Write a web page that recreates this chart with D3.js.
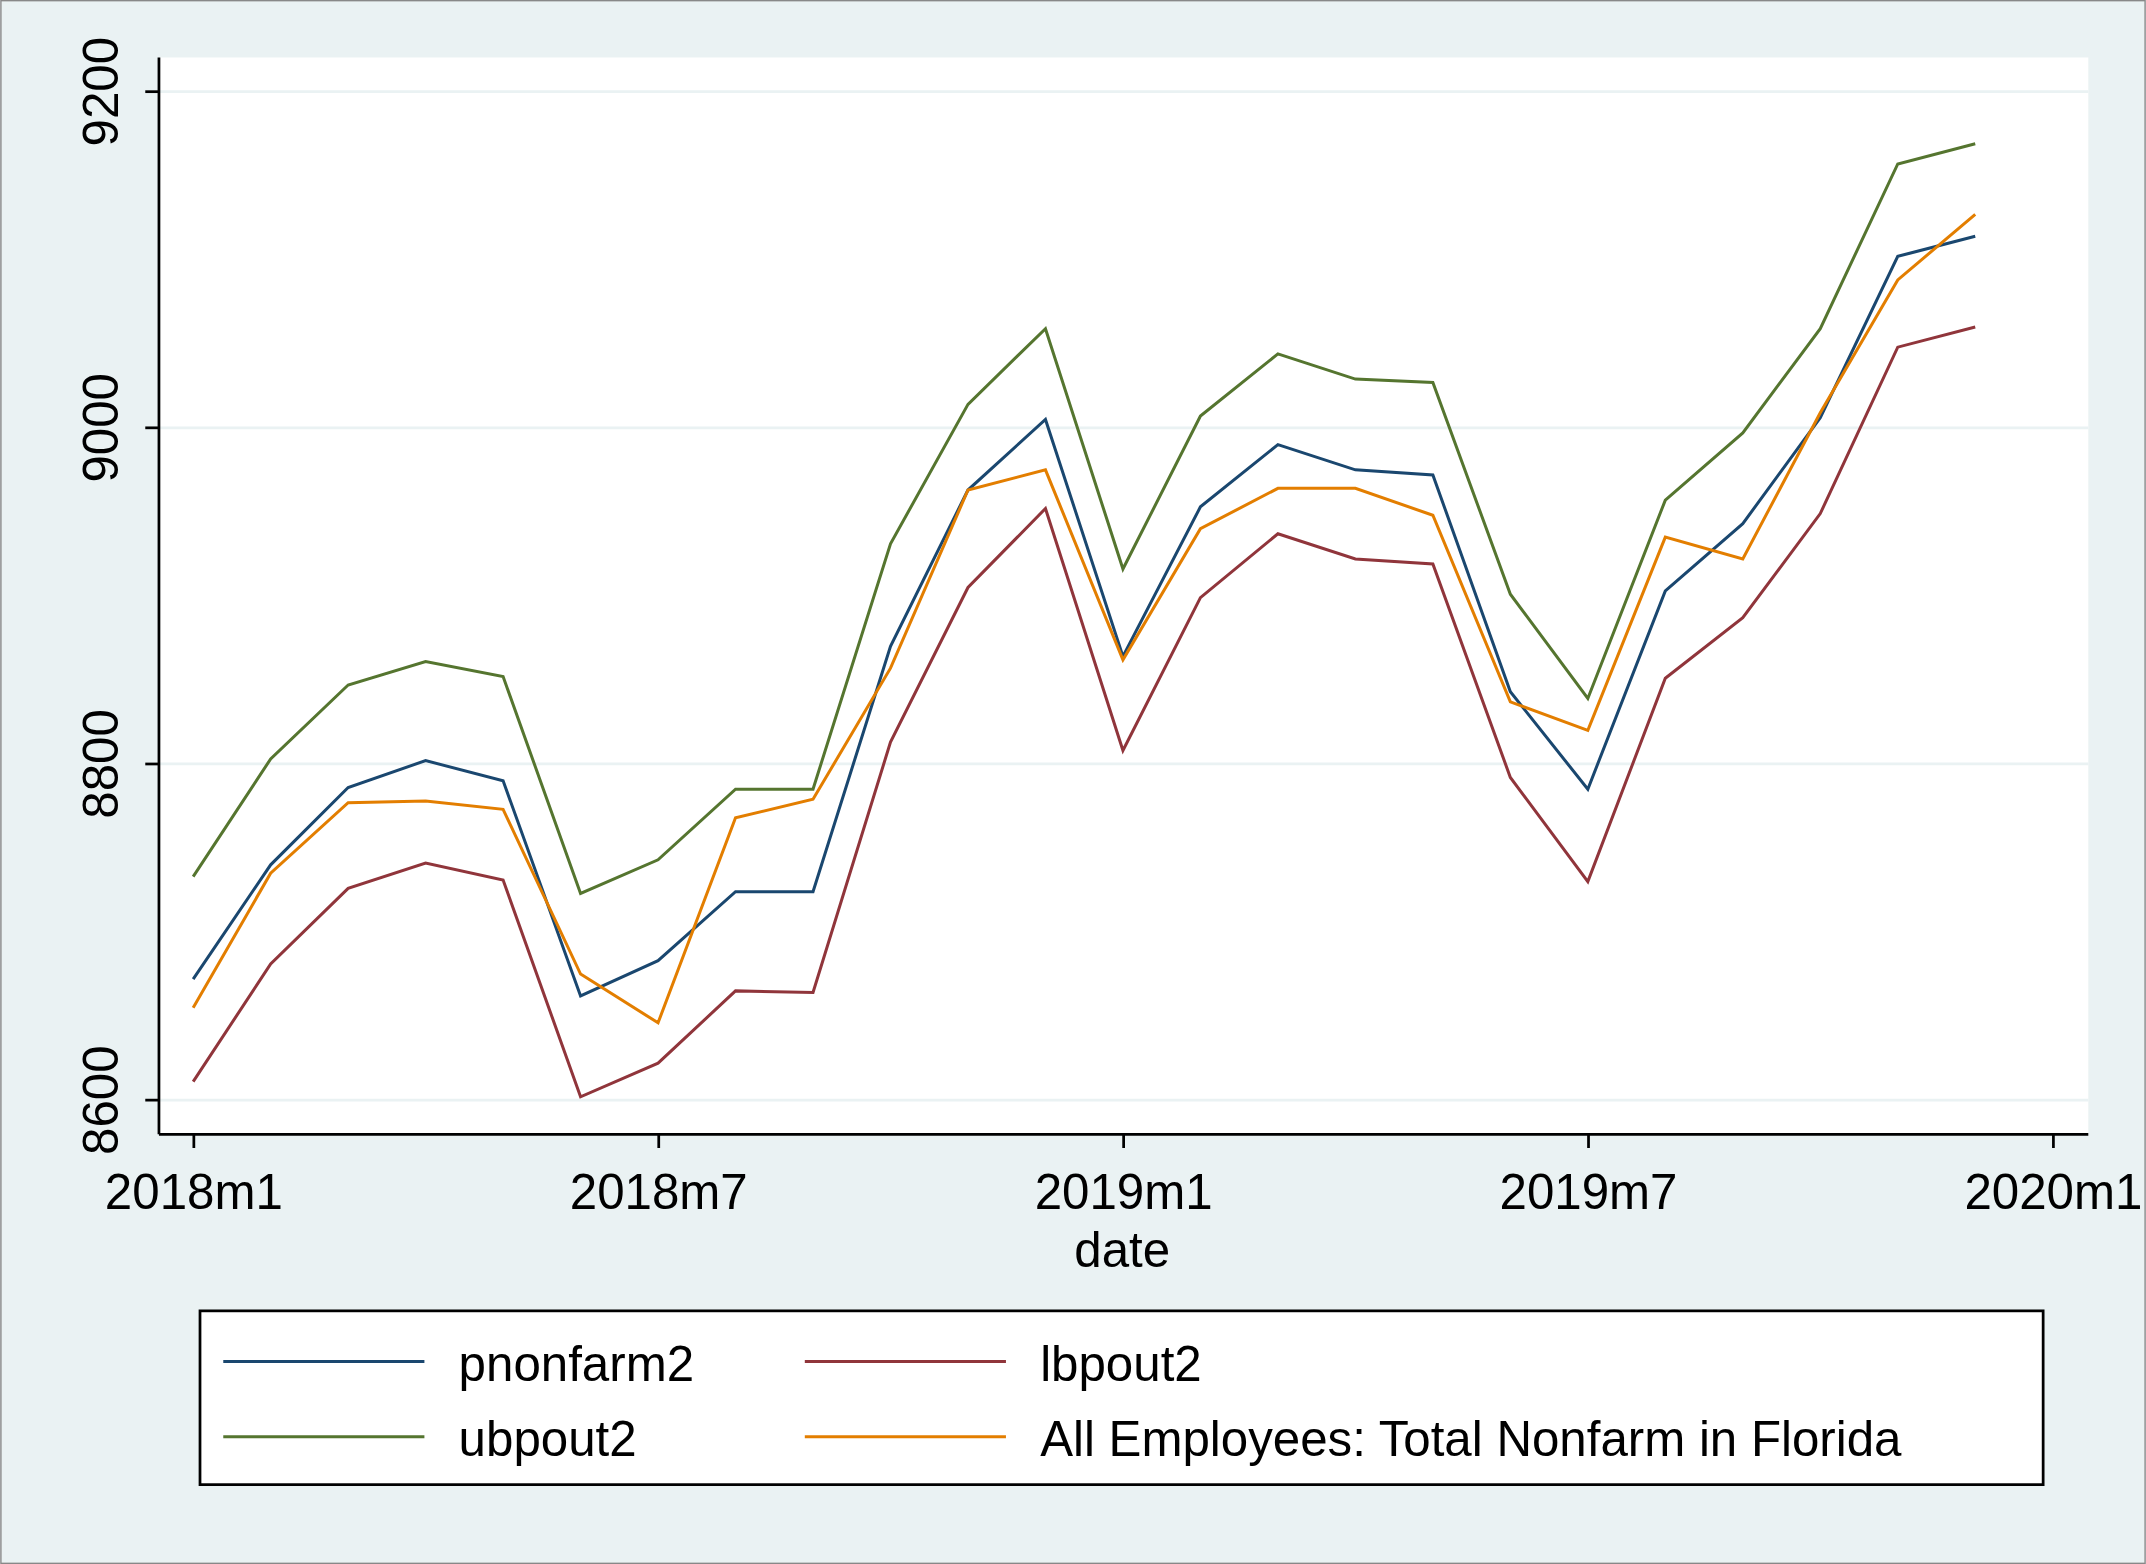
<!DOCTYPE html><html><head><meta charset="utf-8">
<script src="https://cdn.jsdelivr.net/npm/d3@7"></script>
<style>body{margin:0;background:#eaf2f3}svg{display:block}</style></head><body>
<svg id="c" width="2146" height="1564" viewBox="0 0 1568 1143"></svg>
<script>
const months = d3.range(24); // 0 = 2018m1
const pnonfarm2 = [8672,8740,8786,8802,8790,8662,8683,8724,8724,8870,8963,9005,8864,8953,8990,8975,8972,8843,8785,8903,8943,9006,9102,9114];
const ubpout2 = [8733,8803,8847,8861,8852,8723,8743,8785,8785,8931,9014,9059,8916,9007,9044,9029,9027,8901,8839,8957,8997,9059,9157,9169];
const lbpout2 = [8611,8681,8726,8741,8731,8602,8622,8665,8664,8813,8905,8952,8808,8899,8937,8922,8919,8792,8730,8851,8887,8949,9048,9060];
const florida = [8655,8735,8777,8778,8773,8675,8646,8768,8779,8857,8963,8975,8862,8940,8964,8964,8948,8837,8820,8935,8922,9009,9088,9127];
const yTicks = [8600,8800,9000,9200];
const xTicks = [0,6,12,18,24];
const xTickLabels = ["2018m1","2018m7","2019m1","2019m7","2020m1"];
const series = [
 {name:"pnonfarm2",data:pnonfarm2,color:"#1a476f"},
 {name:"lbpout2",data:lbpout2,color:"#90353b"},
 {name:"ubpout2",data:ubpout2,color:"#55752f"},
 {name:"All Employees: Total Nonfarm in Florida",data:florida,color:"#e37e00"}];
const svg=d3.select("#c");
const F="Liberation Sans, Arial, sans-serif";
svg.append("rect").attr("x",0.5).attr("y",0.5).attr("width",1567).attr("height",1142).attr("fill","#eaf2f3").attr("stroke","#888");
const L=116,R=1526,T=42,B=829;
svg.append("rect").attr("x",L).attr("y",T).attr("width",R-L).attr("height",B-T).attr("fill","#fff");
const x=d3.scaleLinear().domain([0,24]).range([141,1500]);
const y=d3.scaleLinear().domain([8600,9200]).range([804,67]);
svg.append("g").selectAll("line").data(yTicks).join("line").attr("x1",L).attr("x2",R).attr("y1",d=>y(d)).attr("y2",d=>y(d)).attr("stroke","#eaf2f3").attr("stroke-width",2);
const line=d3.line().x((d,i)=>x(months[i])).y(d=>y(d));
series.forEach(s=>svg.append("path").attr("d",line(s.data)).attr("fill","none").attr("stroke",s.color).attr("stroke-width",2.2));
const ya=svg.append("g").attr("transform",`translate(${L},0)`).call(d3.axisLeft(y).tickValues(yTicks).tickSize(10).tickFormat(d3.format("d")));
ya.selectAll("text").attr("font-family",F).attr("font-size",36).attr("fill","#000").attr("transform",d=>`rotate(-90) translate(${-y(d)-y(d)},0)`);
ya.selectAll("text").attr("transform",null).each(function(d){d3.select(this).attr("x",null).attr("dy",null).attr("text-anchor","middle").attr("transform",`translate(-30,${y(d)}) rotate(-90)`).attr("y",0)});
ya.selectAll(".tick").attr("transform",null);
ya.selectAll(".tick line").attr("y1",d=>y(d)).attr("y2",d=>y(d));
const xa=svg.append("g").attr("transform",`translate(0,${B})`).call(d3.axisBottom(x).tickValues(xTicks).tickSize(10).tickFormat((d,i)=>xTickLabels[i]));
xa.selectAll("text").attr("font-family",F).attr("font-size",36).attr("fill","#000").attr("dy","1.15em");
svg.selectAll(".domain").attr("stroke","#000").attr("stroke-width",2);
svg.selectAll(".tick line").attr("stroke","#000").attr("stroke-width",2);
ya.select(".domain").attr("d",`M0,${T}V${B}`);
xa.select(".domain").attr("d",`M${L},0H${R}`);
svg.append("text").attr("x",820).attr("y",926).attr("text-anchor","middle").attr("font-family",F).attr("font-size",36).text("date");
svg.append("rect").attr("x",146).attr("y",958).attr("width",1347).attr("height",127).attr("fill","#fff").attr("stroke","#000").attr("stroke-width",2);
const pos=[[163,997],[588,997],[163,1052],[588,1052]];
series.forEach((s,i)=>{const [px,py]=pos[i];
 svg.append("line").attr("x1",px).attr("x2",px+147).attr("y1",py-2).attr("y2",py-2).attr("stroke",s.color).attr("stroke-width",2.2);
 svg.append("text").attr("x",px+172).attr("y",py+12).attr("font-family",F).attr("font-size",36).text(s.name);});
</script></body></html>
